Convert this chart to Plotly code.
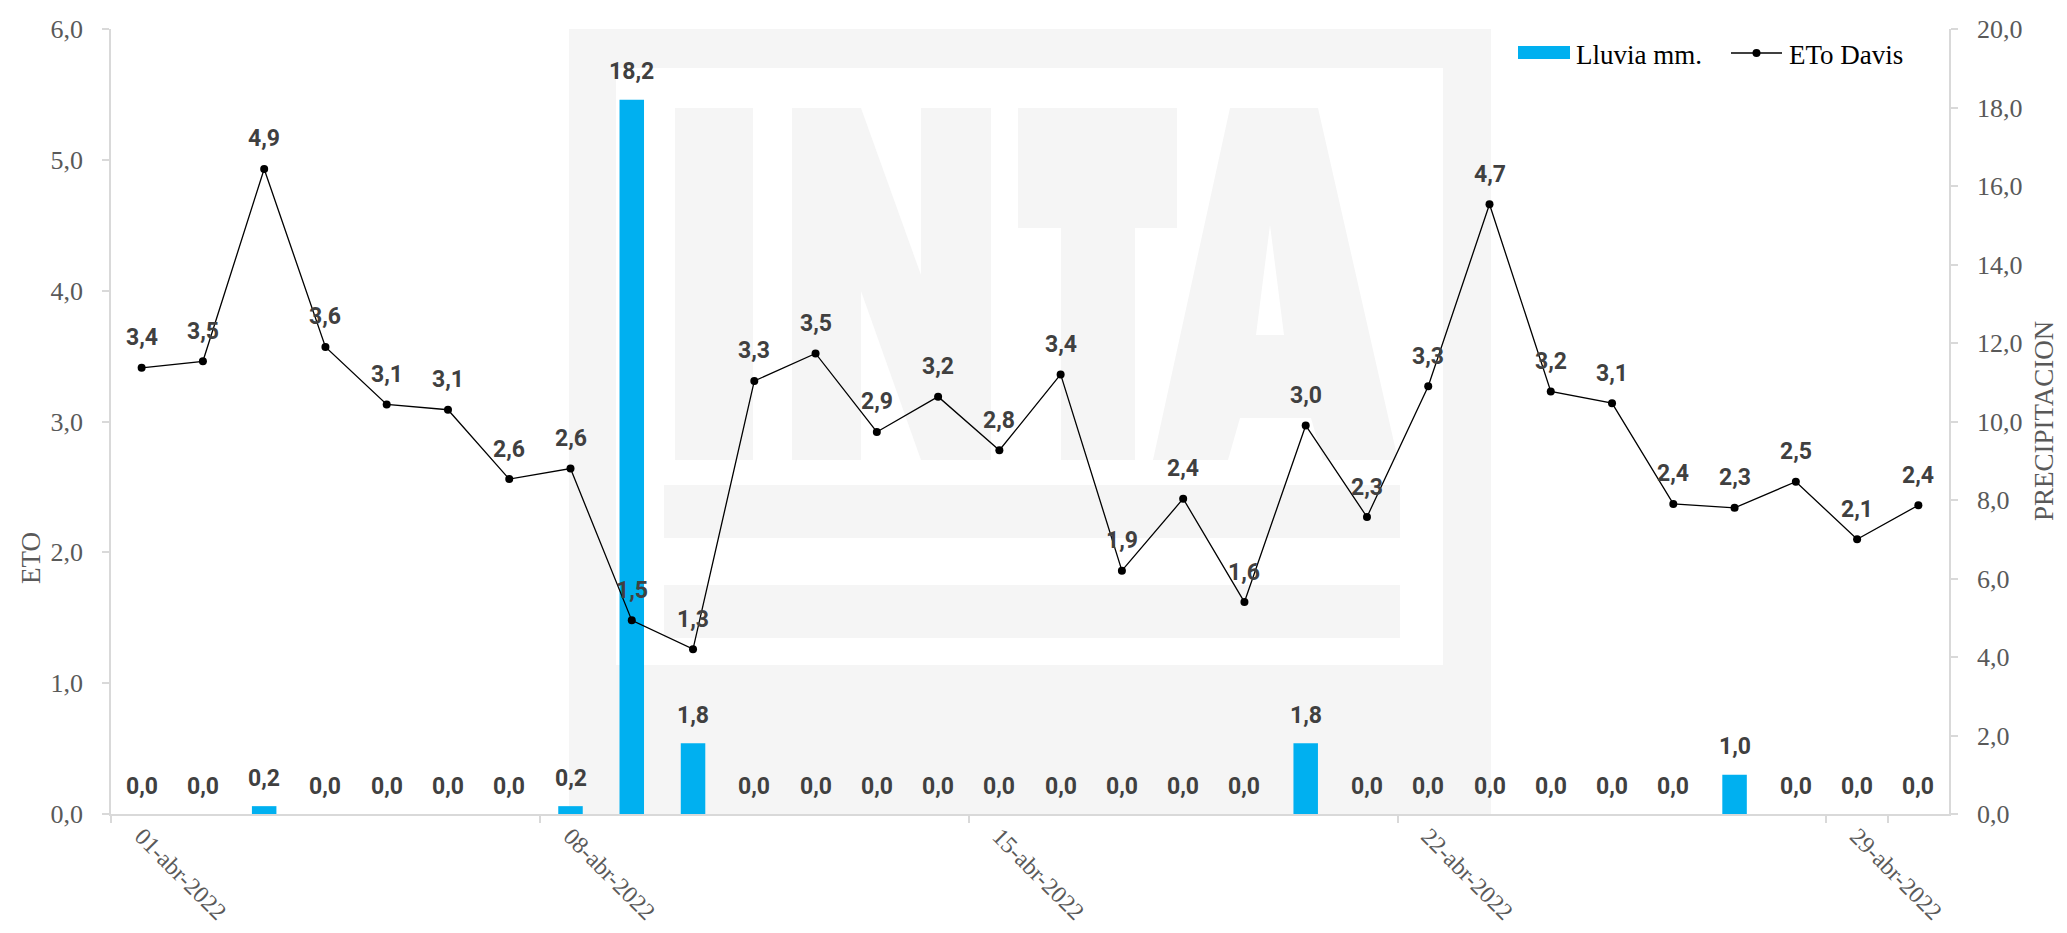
import plotly.graph_objects as go

# ---------------- data ----------------
dias = ["01-abr-2022", "02-abr-2022", "03-abr-2022", "04-abr-2022", "05-abr-2022",
        "06-abr-2022", "07-abr-2022", "08-abr-2022", "09-abr-2022", "10-abr-2022",
        "11-abr-2022", "12-abr-2022", "13-abr-2022", "14-abr-2022", "15-abr-2022",
        "16-abr-2022", "17-abr-2022", "18-abr-2022", "19-abr-2022", "20-abr-2022",
        "21-abr-2022", "22-abr-2022", "23-abr-2022", "24-abr-2022", "25-abr-2022",
        "26-abr-2022", "27-abr-2022", "28-abr-2022", "29-abr-2022", "30-abr-2022"]

lluvia_mm = [0.0, 0.0, 0.2, 0.0, 0.0, 0.0, 0.0, 0.2, 18.2, 1.8,
             0.0, 0.0, 0.0, 0.0, 0.0, 0.0, 0.0, 0.0, 0.0, 1.8,
             0.0, 0.0, 0.0, 0.0, 0.0, 0.0, 1.0, 0.0, 0.0, 0.0]

eto_davis = [3.41, 3.46, 4.93, 3.57, 3.13, 3.09, 2.56, 2.64, 1.48, 1.26,
             3.31, 3.52, 2.92, 3.19, 2.78, 3.36, 1.86, 2.41, 1.62, 2.97,
             2.27, 3.27, 4.66, 3.23, 3.14, 2.37, 2.34, 2.54, 2.10, 2.36]

etiquetas_x = ["01-abr-2022", "08-abr-2022", "15-abr-2022", "22-abr-2022", "29-abr-2022"]

serie_barras = "Lluvia mm."
serie_linea = "ETo Davis"
titulo_izq = "ETO"
titulo_der = "PRECIPITACION"

# ---------------- layout geometry (pixels) ----------------
W, H = 2067, 933
L, R, T, B = 103, 1941, 21, 806

def px(x):
    return (x - L) / (R - L)

def py(y):
    return (B - y) / (B - T)

def rect(x0, y0, x1, y1, color):
    return dict(type="rect", xref="paper", yref="paper", layer="below",
                x0=px(x0), x1=px(x1), y0=py(y1), y1=py(y0),
                fillcolor=color, line=dict(width=0))

def poly(points):
    return "M " + " L ".join(f"{px(a):.5f},{py(b):.5f}" for a, b in points) + " Z"

WM = "#F5F5F5"
shapes = [
    rect(561, T, 1483, B, WM),
    rect(608, 60, 1435, 657, "#FFFFFF"),
    rect(667, 100, 745, 452, WM),                 # I
    rect(1010, 100, 1169, 220, WM),               # T bar
    rect(1053, 220, 1127, 452, WM),               # T stem
    rect(656, 477, 1392, 530, WM),
    rect(656, 577, 1392, 630, WM),
]
n_path = poly([(784, 100), (853, 100), (913, 267), (913, 100), (983, 100),
               (983, 452), (913, 452), (853, 283), (853, 452), (784, 452)])
shapes.append(dict(type="path", xref="paper", yref="paper", layer="below",
                   path=n_path, fillcolor=WM, line=dict(width=0)))
a_outer = poly([(1222, 100), (1310, 100), (1390, 452), (1315, 452), (1303, 410),
                (1232, 410), (1220, 452), (1145, 452)])
a_hole = poly([(1262, 217), (1276, 327), (1248, 327)])
shapes.append(dict(type="path", xref="paper", yref="paper", layer="below",
                   path=a_outer + " " + a_hole, fillcolor=WM, line=dict(width=0)))

# custom legend (symbols)
BLUE = "#00B0F0"
shapes.append(dict(type="rect", xref="paper", yref="paper", layer="above",
                   x0=px(1510), x1=px(1562), y0=py(51), y1=py(38),
                   fillcolor=BLUE, line=dict(width=0)))
shapes.append(dict(type="line", xref="paper", yref="paper", layer="above",
                   x0=px(1723), x1=px(1774), y0=py(45), y1=py(45),
                   line=dict(color="#000000", width=1.3)))
shapes.append(dict(type="circle", xref="paper", yref="paper", layer="above",
                   x0=px(1744.5), x1=px(1752.5), y0=py(49), y1=py(41),
                   fillcolor="#000000", line=dict(width=0)))

# ---------------- figure ----------------
AXIS_GRAY = "#D9D9D9"
TXT_GRAY = "#595959"
LBL = "#404040"
SERIF = "Liberation Serif, Times New Roman, serif"
LBLFONT = dict(family="Roboto, Arial", size=23, color=LBL, weight="bold")
TICKFONT = dict(family=SERIF, size=26, color=TXT_GRAY)
XTICKFONT = dict(family=SERIF, size=24, color=TXT_GRAY)
TITLEFONT = dict(family=SERIF, size=27, color=TXT_GRAY)

fig = go.Figure()
fig.add_trace(go.Bar(
    x=dias, y=lluvia_mm, name=serie_barras, yaxis="y",
    marker=dict(color=BLUE, line=dict(width=0)),
))
fig.add_trace(go.Scatter(
    x=dias, y=eto_davis, name=serie_linea, yaxis="y2",
    mode="lines+markers", line=dict(color="#000000", width=1.3),
    marker=dict(color="#000000", size=8),
))

ann = []
for d, v in zip(dias, lluvia_mm):
    ann.append(dict(x=d, y=v, xref="x", yref="y", text=f"{v:.1f}".replace(".", ","),
                    showarrow=False, yshift=28, font=LBLFONT))
for d, v in zip(dias, eto_davis):
    ann.append(dict(x=d, y=v, xref="x", yref="y2", text=f"{v:.1f}".replace(".", ","),
                    showarrow=False, yshift=30, font=LBLFONT))

LEGFONT = dict(family=SERIF, size=27, color="#000000")
ann.append(dict(x=px(1566), y=py(47), xref="paper", yref="paper", xanchor="left",
                yanchor="middle", text=serie_barras, showarrow=False, font=LEGFONT))
ann.append(dict(x=px(1779), y=py(47), xref="paper", yref="paper", xanchor="left",
                yanchor="middle", text=serie_linea, showarrow=False, font=LEGFONT))

# axis titles
ann.append(dict(x=px(23), y=py(550), xref="paper", yref="paper", xanchor="center",
                yanchor="middle", text=titulo_izq, textangle=-90, showarrow=False, font=TITLEFONT))
ann.append(dict(x=px(2036), y=py(413), xref="paper", yref="paper", xanchor="center",
                yanchor="middle", text=titulo_der, textangle=-90, showarrow=False, font=TITLEFONT))

fig.update_layout(
    width=W, height=H,
    margin=dict(l=L, r=W - R, t=T, b=H - B, autoexpand=False),
    paper_bgcolor="white", plot_bgcolor="white",
    separators=",.",
    bargap=0.6,
    shapes=shapes,
    annotations=ann,
    showlegend=False,
    xaxis=dict(
        type="category", range=[-0.5, 29.5], autorange=False,
        tickmode="array", tickvals=etiquetas_x, ticktext=etiquetas_x,
        tickson="boundaries", ticks="outside", ticklen=7, tickcolor=AXIS_GRAY, tickwidth=1.5,
        ticklabelstandoff=-3,
        tickangle=45, tickfont=XTICKFONT,
        showline=True, linecolor=AXIS_GRAY, linewidth=1.5, showgrid=False, zeroline=False,
        automargin=False,
    ),
    yaxis=dict(
        side="right", range=[0, 20], dtick=2, tickformat=".1f",
        ticks="outside", ticklen=7, tickcolor=AXIS_GRAY, tickwidth=1.5,
        ticklabelstandoff=14,
        tickfont=TICKFONT,
        showline=True, linecolor=AXIS_GRAY, linewidth=1.5, showgrid=False, zeroline=False,
        automargin=False,
    ),
    yaxis2=dict(
        overlaying="y", side="left", range=[0, 6], dtick=1, tickformat=".1f",
        ticks="outside", ticklen=7, tickcolor=AXIS_GRAY, tickwidth=1.5,
        ticklabelstandoff=14,
        tickfont=TICKFONT,
        showline=True, linecolor=AXIS_GRAY, linewidth=1.5, showgrid=False, zeroline=False,
        automargin=False,
    ),
)

fig.write_html("out.html")
